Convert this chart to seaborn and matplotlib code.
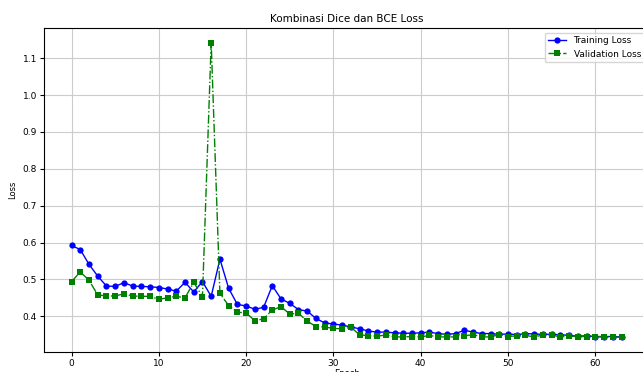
import numpy as np
import pandas as pd
import seaborn as sns
import matplotlib.pyplot as plt

epochs = list(range(64))

train_loss = [0.592, 0.581, 0.541, 0.509, 0.482, 0.481, 0.491, 0.482, 0.481, 0.480,
              0.478, 0.474, 0.468, 0.492, 0.466, 0.494, 0.454, 0.555, 0.476, 0.432,
              0.428, 0.419, 0.424, 0.483, 0.447, 0.435, 0.418, 0.414, 0.394, 0.382,
              0.379, 0.376, 0.371, 0.366, 0.360, 0.357, 0.357, 0.355, 0.354, 0.354,
              0.355, 0.357, 0.353, 0.351, 0.353, 0.362, 0.357, 0.353, 0.353, 0.351,
              0.352, 0.350, 0.353, 0.352, 0.351, 0.351, 0.350, 0.348, 0.346, 0.347,
              0.345, 0.345, 0.345, 0.344]

val_loss = [0.494, 0.520, 0.498, 0.458, 0.455, 0.455, 0.461, 0.455, 0.454, 0.454,
            0.446, 0.450, 0.454, 0.450, 0.492, 0.453, 1.142, 0.462, 0.429, 0.411,
            0.409, 0.388, 0.393, 0.417, 0.426, 0.406, 0.408, 0.387, 0.372, 0.371,
            0.367, 0.366, 0.370, 0.350, 0.347, 0.346, 0.349, 0.344, 0.344, 0.345,
            0.344, 0.348, 0.344, 0.344, 0.344, 0.347, 0.350, 0.344, 0.344, 0.350,
            0.345, 0.347, 0.348, 0.344, 0.349, 0.349, 0.344, 0.346, 0.345, 0.345,
            0.344, 0.344, 0.344, 0.343]

df = pd.DataFrame({"epoch": epochs, "train": train_loss, "val": val_loss})

fig = plt.figure(figsize=(6.43, 3.72), dpi=100)
ax = fig.add_axes([44 / 643, 1 - 352 / 372, (649 - 44) / 643, (352 - 28) / 372])

sns.lineplot(data=df, x="epoch", y="train", ax=ax, color="blue", marker="o",
             markersize=4.5, linewidth=1.0, markeredgewidth=0, label="Training Loss")
sns.lineplot(data=df, x="epoch", y="val", ax=ax, color="green", marker="s",
             markersize=4, linewidth=1.0, markeredgewidth=0, linestyle="-.",
             label="Validation Loss")

ax.grid(True, color="#cccccc", linewidth=0.8)
ax.set_title("Kombinasi Dice dan BCE Loss", fontsize=7.5, pad=4)
ax.set_xlabel("Epoch", fontsize=6, labelpad=1)
ax.set_ylabel("Loss", fontsize=6)
ax.tick_params(labelsize=6.5, length=3, pad=2)
ax.set_yticks([0.4, 0.5, 0.6, 0.7, 0.8, 0.9, 1.0, 1.1])
ax.legend(loc="upper right", fontsize=6.5, handlelength=2, borderpad=0.4)

fig.savefig("out.png", dpi=100)
